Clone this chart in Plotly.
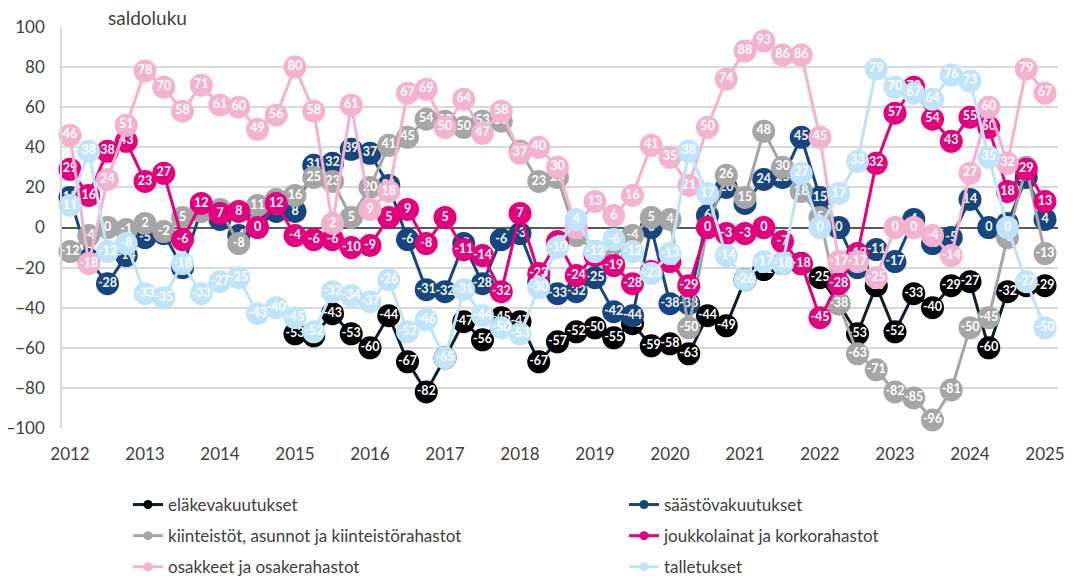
import plotly.graph_objects as go

# Quarterly observation points 2012Q1 ... 2025Q1
years = list(range(2012, 2026))
quarters = [y + q / 4 for y in range(2012, 2025) for q in range(4)] + [2025.0]
year_labels = [str(y) for y in years]

elakevakuutukset = [None] * 12 + [
    -53, -54, -43, -53, -60, -44, -67, -82, -65, -47,
    -56, -45, -47, -67, -57, -52, -50, -55, -48, -59,
    -58, -63, -44, -49, -26, -21, -18, -18, -25, -38,
    -53, -29, -52, -33, -40, -29, -27, -60, -32, -29, -29]

saastovakuutukset = [
    15, -16, -28, -14, -5, -3, -20, 9, 4, -4, 6, 8, 8,
    31, 32, 39, 37, 21, -6, -31, -32, -8, -28, -6, -3, -27,
    -33, -32, -25, -42, -44, 0, -38, -38, 6, 20, 12, 24, 25,
    45, 15, 0, -20, -11, -17, 4, -8, -5, 14, 0, 2, 25, 4]

kiinteistot = [
    -12, -4, 0, -1, 2, -2, 5, 8, 9, -8, 11, 14, 16,
    25, 23, 5, 20, 41, 45, 54, 53, 50, 53, 53, 38, 23,
    25, -4, -12, -16, -4, 5, 4, -50, 0, 26, 15, 48, 30,
    18, 5, -38, -63, -71, -82, -85, -96, -81, -50, -45, -5, 30, -13]

joukkolainat = [
    29, 16, 38, 43, 23, 27, -6, 12, 7, 8, 0, 12, -4,
    -6, -6, -10, -9, 5, 9, -8, 5, -11, -14, -32, 7, -23,
    -7, -24, -14, -19, -28, -22, -17, -29, 0, -3, -3, 0, -7,
    -18, -45, -28, -13, 32, 57, 70, 54, 43, 55, 50, 18, 29, 13]

osakkeet = [
    46, -18, 24, 51, 78, 70, 58, 71, 61, 60, 49, 56, 80,
    58, 2, 61, 9, 18, 67, 69, 50, 64, 47, 58, 37, 40,
    30, 0, 13, 6, 16, 41, 35, 21, 50, 74, 88, 93, 86,
    86, 45, -17, -17, -25, 0, 0, -4, -14, 27, 60, 32, 79, 67]

talletukset = [
    11, 38, -12, -8, -33, -35, -18, -33, -27, -25, -43, -40, -45,
    -52, -32, -34, -37, -26, -52, -46, -65, -31, -44, -50, -53, -30,
    -10, 4, -12, -6, -12, -23, -13, 38, 17, -14, -26, -17, -18,
    27, 0, 17, 33, 79, 70, 67, 64, 76, 73, 35, 0, -27, -50]

# name, values, marker colour, line colour, legend column
series = [
    ("eläkevakuutukset", elakevakuutukset, "#000000", "#0c1e2e", "legend"),
    ("säästövakuutukset", saastovakuutukset, "#17457f", "#17457f", "legend2"),
    ("kiinteistöt, asunnot ja kiinteistörahastot", kiinteistot, "#a5a5a5", "#a5a5a5", "legend"),
    ("joukkolainat ja korkorahastot", joukkolainat, "#e4007c", "#e4007c", "legend2"),
    ("osakkeet ja osakerahastot", osakkeet, "#f3b3d0", "#f3b3d0", "legend"),
    ("talletukset", talletukset, "#bfe3f8", "#bfe3f8", "legend2"),
]

FONT = "Lato, 'Open Sans', sans-serif"
TXT = "#404040"
fig = go.Figure()

for name, vals, mcol, lcol, leg in series:
    fig.add_trace(go.Scatter(
        x=quarters, y=vals, name=name, mode="lines+markers+text",
        text=[("" if v is None else str(v)) for v in vals],
        textposition="middle center",
        textfont=dict(color="white", size=12.5, family=FONT, weight="bold"),
        line=dict(color=lcol, width=3),
        marker=dict(color=mcol, size=23),
        cliponaxis=False, showlegend=False, hoverinfo="skip",
        connectgaps=False,
    ))

# legend-only entries with small symbols
for name, vals, mcol, lcol, leg in series:
    fig.add_trace(go.Scatter(
        x=[None], y=[None], name=name, mode="lines+markers",
        line=dict(color=lcol, width=3), marker=dict(color=mcol, size=9),
        showlegend=True, hoverinfo="skip", legend=leg, legendgroup=name,
    ))

leg_common = dict(orientation="v", xref="container", yref="container",
                  xanchor="left", yanchor="top", tracegroupgap=6,
                  font=dict(size=17, color=TXT, family=FONT),
                  itemwidth=30, bgcolor="rgba(0,0,0,0)")

# the page adds an 8 px body margin, so the figure's own margins compensate
fig.update_layout(
    width=1076, height=576,
    margin=dict(l=54, r=26, t=19, b=156, autoexpand=False),
    paper_bgcolor="white", plot_bgcolor="white",
    font=dict(family=FONT, color=TXT, size=17),
    showlegend=True,
    legend=dict(x=120 / 1076, y=1 - 479 / 576, **leg_common),
    legend2=dict(x=616 / 1076, y=1 - 479 / 576, **leg_common),
    annotations=[dict(text="saldoluku", xref="paper", yref="paper",
                      x=44 / 996, y=1.0, xanchor="left", yanchor="bottom",
                      yshift=-4, showarrow=False,
                      font=dict(size=19, color=TXT, family=FONT))],
)

fig.update_xaxes(
    range=[2012 - 8 / 75, 2025 + 13 / 75],
    tickvals=years, ticktext=year_labels,
    showgrid=False, zeroline=False, showline=False, ticks="",
    tickfont=dict(size=17, color=TXT, family=FONT),
    ticklabelstandoff=14,
)
fig.update_yaxes(
    range=[-100, 100], dtick=20, tick0=0,
    showgrid=True, gridcolor="#d9d9d9", gridwidth=1.5,
    zeroline=True, zerolinecolor="#595959", zerolinewidth=2,
    showline=True, linecolor="#d9d9d9", linewidth=1.5, ticks="",
    tickfont=dict(size=17, color=TXT, family=FONT),
    ticklabelstandoff=12,
)

fig.write_html("out.html")
